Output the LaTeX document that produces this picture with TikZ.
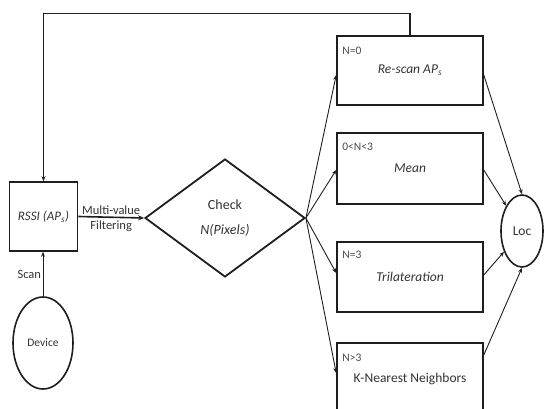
\documentclass[tikz,border=0pt]{standalone}
\usepackage{fontspec}
\setmainfont{Carlito}
\usetikzlibrary{shapes.geometric,arrows.meta}
\definecolor{ink}{HTML}{1E1E1E}
\definecolor{txt}{HTML}{333333}
\definecolor{lbl}{HTML}{4A4A4A}
\begin{document}
\begin{tikzpicture}[x=1pt,y=-1pt,
  box/.style={draw=ink,line width=1.6pt,minimum width=146pt,inner sep=0pt,text=txt,
    font=\fontsize{13.5}{16}\selectfont},
  cond/.style={anchor=west,inner sep=0pt,text=lbl,font=\fontsize{11.5}{13}\selectfont},
  flow/.style={draw=ink,line width=0.9pt,-{Stealth[length=5pt,width=4pt]}},
  main/.style={draw=ink,line width=1.6pt,-{Stealth[length=6pt,width=5pt]}},
  fb/.style={draw=ink,line width=1.1pt,-{Stealth[length=5pt,width=4pt]}},
  tag/.style={text=txt,font=\fontsize{12.5}{14}\selectfont}]
\useasboundingbox (0,0) rectangle (544,409);

% source side
\node[draw=ink,line width=1.6pt,minimum width=68pt,minimum height=69pt,inner sep=0pt,
  text=txt,font=\fontsize{13}{15}\selectfont] (rssi) at (43.5,216.5) {\itshape RSSI (AP\textsubscript{s})};
\node[ellipse,draw=ink,line width=1.6pt,minimum width=60pt,minimum height=92pt,inner sep=0pt,
  text=txt,font=\fontsize{11.5}{14}\selectfont] (device) at (43,343) {Device};

% decision
\node[diamond,draw=ink,line width=1.8pt,minimum width=160pt,minimum height=118pt,inner sep=0pt,
  align=center,text=txt,font=\fontsize{14}{25}\selectfont] (check) at (225,218) {Check\\ \itshape N(Pixels)};

% estimation methods
\node[box,minimum height=69pt] (rescan) at (410,70.5) {\itshape Re-scan AP\textsubscript{s}};
\node[box,minimum height=71pt] (mean) at (410,168.5) {\itshape Mean};
\node[box,minimum height=70pt] (tri) at (410,277) {\itshape Trilateration};
\node[box,minimum height=71pt] (knn) at (410,378.5) {K-Nearest Neighbors};

\node[cond] (c0) at ([xshift=6pt,yshift=-16pt]rescan.north west) {N=0};
\node[cond] (c1) at ([xshift=6pt,yshift=-15pt]mean.north west) {0<N<3};
\node[cond] (c2) at ([xshift=6pt,yshift=-14pt]tri.north west) {N=3};
\node[cond] (c3) at ([xshift=6pt,yshift=-16pt]knn.north west) {N>3};

% result
\node[ellipse,draw=ink,line width=1.6pt,minimum width=42pt,minimum height=72pt,inner sep=0pt,
  text=txt,font=\fontsize{13.5}{15}\selectfont] (loc) at (522,231) {Loc};

% connectors
\draw[flow] (device.north) -- (device.north |- rssi.south)
  node[tag,pos=0.5,anchor=east,inner sep=1.5pt] (scan) {Scan};
\draw[main] (rssi.east) -- (check.west)
  node[tag,pos=0.5,above,inner sep=1.5pt] (mv) {Multi-value}
  node[tag,pos=0.5,below,inner sep=3pt] (filt) {Filtering};

\draw[flow] (check.east) -- ([yshift=-4.5pt]rescan.west);
\draw[flow] (check.east) -- ([yshift=-1.5pt]mean.west);
\draw[flow] (check.east) -- ([yshift=4pt]tri.west);
\draw[flow] (check.east) -- ([yshift=5.5pt]knn.west);

\draw[flow] ([yshift=-4.5pt]rescan.east) -- (loc.north);
\draw[flow] ([yshift=-1.5pt]mean.east) -- (loc);
\draw[flow] ([yshift=2pt]tri.east) -- (loc);
\draw[flow] ([yshift=23.5pt]knn.east) -- (loc.south);

% re-scan feedback loop
\draw[fb] (rescan.north) -- ++(0,-22) -| (rssi.north);
\end{tikzpicture}
\end{document}
